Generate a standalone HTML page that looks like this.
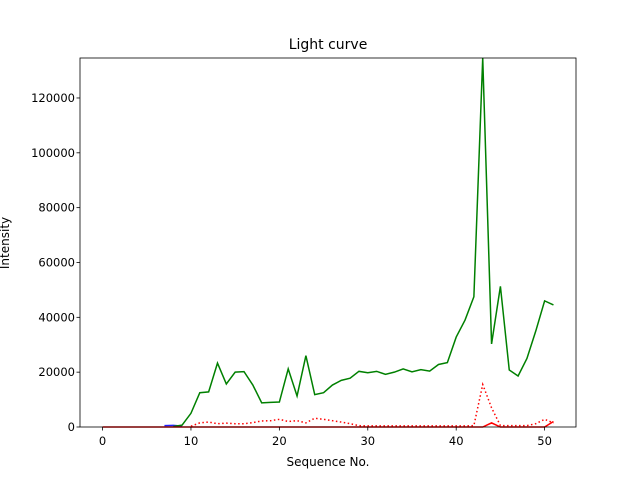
<!DOCTYPE html>
<html><head><meta charset="utf-8"><style>
body{margin:0;background:#fff;font-family:"Liberation Sans","DejaVu Sans",sans-serif}
text{font-family:"DejaVu Sans","Liberation Sans",sans-serif;font-size:11.5px;fill:#000}
</style></head><body>
<svg id="chart" width="640" height="480" xmlns="http://www.w3.org/2000/svg">
<rect width="640" height="480" fill="#fff"/>
<g id="plot"></g>
<text x="328" y="49" text-anchor="middle" style="font-size:14px">Light curve</text>
<text x="328" y="466" text-anchor="middle" style="font-size:12px">Sequence No.</text>
<text transform="translate(9,243) rotate(-90)" text-anchor="middle" style="font-size:12px">Intensity</text>
</svg>
<script>
const xTicks=[0,10,20,30,40,50];
const yTicks=[0,20000,40000,60000,80000,100000,120000];
const greenX=[8,9,10,11,12,13,14,15,16,17,18,19,20,21,22,23,24,25,26,27,28,29,30,31,32,33,34,35,36,37,38,39,40,41,42,43,44,45,46,47,48,49,50,51];
const greenY=[200,700,5000,12500,12800,23300,15700,20000,20200,15300,8800,9000,9100,21200,11300,26000,11800,12500,15300,17000,17800,20300,19800,20300,19200,20000,21200,20100,20900,20400,22800,23500,32800,39000,47500,134580,30300,51300,20800,18600,25000,35000,46000,44500];
const redDotX=[10,11,12,13,14,15,16,17,18,19,20,21,22,23,24,25,26,27,28,29,30,31,32,33,34,35,36,37,38,39,40,41,42,43,44,45,46,47,48,49,50,51];
const redDotY=[300,1500,1800,1200,1400,1200,1200,1600,2200,2300,2800,2000,2300,1500,3200,2800,2300,1800,1200,500,400,400,400,400,400,400,400,400,400,400,400,400,500,15500,7000,500,500,500,500,1200,2800,1500];
const redX=[0,1,2,3,4,5,6,7,8,9,10,11,12,13,14,15,16,17,18,19,20,21,22,23,24,25,26,27,28,29,30,31,32,33,34,35,36,37,38,39,40,41,42,43,44,45,46,47,48,49,50,51];
const redY=[0,0,0,0,0,0,0,0,0,0,0,0,0,0,0,0,0,0,0,0,0,0,0,0,0,0,0,0,0,0,0,0,0,0,0,0,0,0,0,0,0,0,0,0,1500,0,0,0,0,0,0,2000];
const blueX=[7,8,9];
const blueY=[500,600,300];
const L=80,R=576,T=58,B=427,xmin=-2.55,xmax=53.55,ymax=134580;
const sx=v=>L+(v-xmin)/(xmax-xmin)*(R-L);
const sy=v=>B-v/ymax*(B-T);
const NS="http://www.w3.org/2000/svg";
const g=document.getElementById('plot');
function mk(t,a){const e=document.createElementNS(NS,t);for(const k in a)e.setAttribute(k,a[k]);g.appendChild(e);return e;}
function line(xs,ys,color,dash,name){
  const e=mk('polyline',{points:xs.map((x,i)=>sx(x)+','+sy(ys[i])).join(' '),fill:'none',stroke:color,'stroke-width':1.5});
  if(dash)e.setAttribute('stroke-dasharray',dash);
  
  
}
line(blueX,blueY,'#1f1fff','','series-blue');
line(greenX,greenY,'green','','series-green');
line(redDotX,redDotY,'red','1.5,2.5','series-red-dotted');
line(redX,redY,'red','','series-red');
const fr=mk('rect',{x:L,y:T,width:R-L,height:B-T,fill:'none',stroke:'#000','stroke-width':0.8});


xTicks.forEach(v=>{
  const x=sx(v);
  const t=mk('line',{x1:x,x2:x,y1:B,y2:B+3.5,stroke:'#000','stroke-width':0.8});
  
  
  const l=mk('text',{x:x,y:B+18,'text-anchor':'middle'});l.textContent=v;
  
  
});
yTicks.forEach(v=>{
  const y=sy(v);
  const t=mk('line',{x1:L-3.5,x2:L,y1:y,y2:y,stroke:'#000','stroke-width':0.8});
  
  
  const l=mk('text',{x:L-5,y:y+4,'text-anchor':'end'});l.textContent=v;
  
  
});
</script>
</body></html>
